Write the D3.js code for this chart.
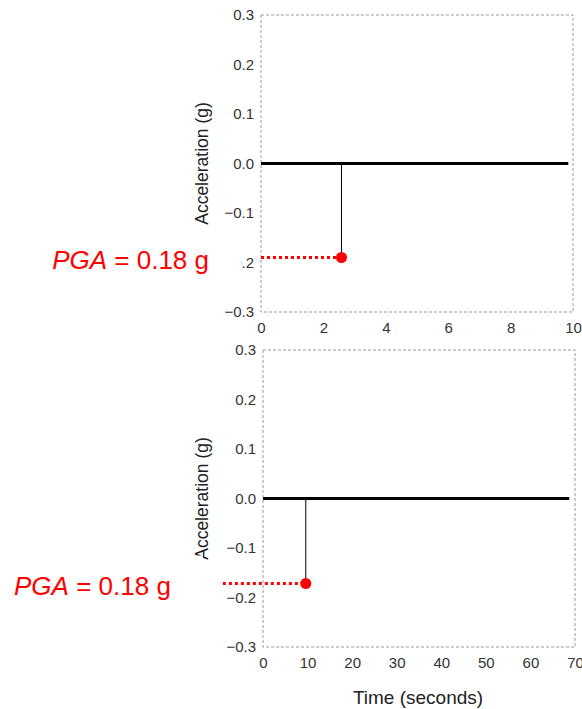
<!DOCTYPE html>
<html>
<head>
<meta charset="utf-8">
<script src="https://cdn.jsdelivr.net/npm/d3@7"></script>
<style>
  body { margin: 0; background: #fff; }
  svg { display: block; font-family: Arial, "Liberation Sans", sans-serif; }
</style>
</head>
<body>
<div id="chart"></div>
<script>
// record values
const yTicks = [-0.3, -0.2, -0.1, 0.0, 0.1, 0.2, 0.3];
const topTicksX = [0, 2, 4, 6, 8, 10];
const bottomTicksX = [0, 10, 20, 30, 40, 50, 60, 70];
const topBaseline = [{ t: 0, a: 0 }, { t: 9.85, a: 0 }];
const bottomBaseline = [{ t: 0, a: 0 }, { t: 68.7, a: 0 }];
const topPeak = { t: 2.58, a: -0.188 };
const bottomPeak = { t: 9.6, a: -0.17 };
const pgaLabel = '0.18 g';

const width = 582, height = 709;

const panels = [
	{ xDomain: [0, 10], xTicks: topTicksX, baseline: topBaseline, peak: topPeak, guideFrom: 0,
		left: 261, right: 573, top: 15, bottom: 312, xTitle: false },
	{ xDomain: [0, 70], xTicks: bottomTicksX, baseline: bottomBaseline, peak: bottomPeak, guideFrom: -9,
		left: 263, right: 575, top: 350, bottom: 647, xTitle: true },
];

const svg = d3.select('#chart').append('svg')
	.attr('width', width)
	.attr('height', height);

panels.forEach((p) => {
	const x = d3.scaleLinear().domain(p.xDomain).range([p.left, p.right]);
	const y = d3.scaleLinear().domain([-0.3, 0.3]).range([p.bottom, p.top]);
	const g = svg.append('g');

	// dashed frame
	g.append('rect')
		.attr('x', p.left).attr('y', p.top)
		.attr('width', p.right - p.left).attr('height', p.bottom - p.top)
		.attr('fill', 'none')
		.attr('stroke', '#999')
		.attr('stroke-width', 1)
		.attr('stroke-dasharray', '3,2');

	const yAxis = d3.axisLeft(y).tickValues(yTicks).tickSize(0).tickPadding(7)
		.tickFormat(d3.format('.1f'));
	const xAxis = d3.axisBottom(x).tickValues(p.xTicks).tickSize(0).tickPadding(10)
		.tickFormat(d3.format('d'));

	g.append('g')
		.attr('transform', `translate(${p.left},0)`)
		.call(yAxis)
		.call(a => a.select('.domain').remove())
		.selectAll('text')
		.attr('font-size', 15)
		.attr('fill', '#333');

	g.append('g')
		.attr('transform', `translate(0,${p.bottom})`)
		.call(xAxis)
		.call(a => a.select('.domain').remove())
		.selectAll('text')
		.attr('font-size', 15)
		.attr('fill', '#333');

	g.append('text')
		.attr('transform', `translate(208,${(p.top + p.bottom) / 2}) rotate(-90)`)
		.attr('text-anchor', 'middle')
		.attr('font-size', 17.5)
		.attr('fill', '#222')
		.text('Acceleration (g)');

	if (p.xTitle) {
		g.append('text')
			.attr('x', 418).attr('y', 704)
			.attr('text-anchor', 'middle')
			.attr('font-size', 19)
			.attr('fill', '#222')
			.text('Time (seconds)');
	}

	// PGA annotation
	const gx = x(p.guideFrom), py = Math.round(y(p.peak.a)) + 0.5;
	g.append('rect')
		.attr('x', 0).attr('y', py - 28)
		.attr('width', gx - 20).attr('height', 48)
		.attr('fill', '#fff');

	const label = g.append('text')
		.attr('x', gx - 52).attr('y', py + 11)
		.attr('text-anchor', 'end')
		.attr('font-size', 26)
		.attr('fill', '#ff0000');
	label.append('tspan').attr('font-style', 'italic').text('PGA');
	label.append('tspan').text(' = ' + pgaLabel);

	g.append('line')
		.attr('x1', gx).attr('x2', x(p.peak.t))
		.attr('y1', py).attr('y2', py)
		.attr('stroke', '#ff0000')
		.attr('stroke-width', 3)
		.attr('stroke-dasharray', '3,3');

	g.append('line')
		.attr('x1', x(p.peak.t)).attr('x2', x(p.peak.t))
		.attr('y1', y(0)).attr('y2', py)
		.attr('stroke', '#000')
		.attr('stroke-width', 1);

	const line = d3.line().x(d => x(d.t)).y(d => y(d.a));
	g.append('path')
		.datum(p.baseline)
		.attr('d', line)
		.attr('fill', 'none')
		.attr('stroke', '#000')
		.attr('stroke-width', 3);

	g.append('circle')
		.attr('cx', x(p.peak.t)).attr('cy', py)
		.attr('r', 5.5)
		.attr('fill', '#ff0000');
});
</script>
</body>
</html>
